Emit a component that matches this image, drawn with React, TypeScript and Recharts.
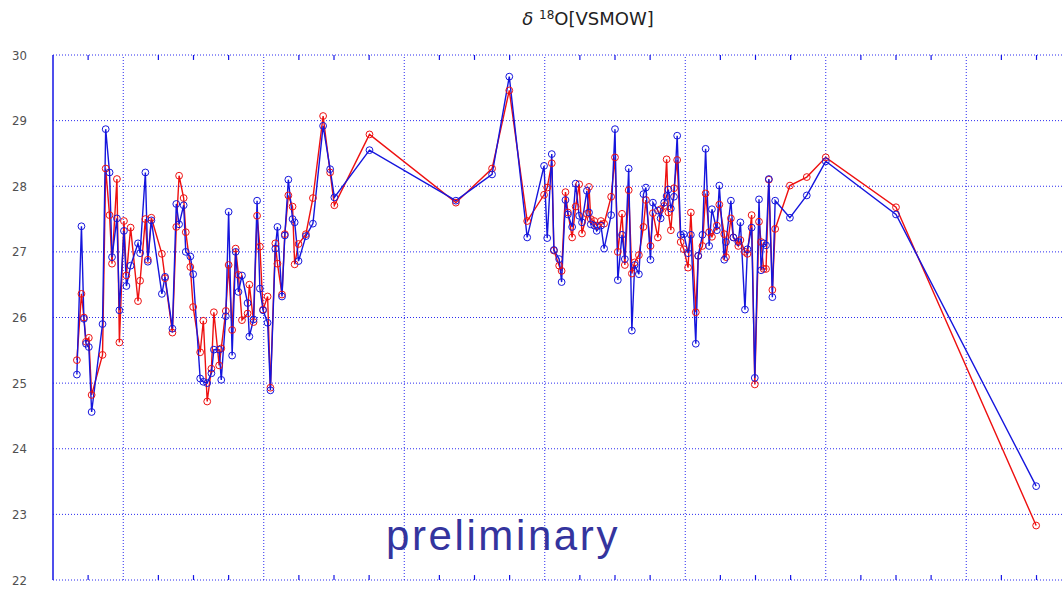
import React from "react";
import { LineChart, Line, XAxis, YAxis, CartesianGrid, ReferenceLine } from "recharts";

// sample position along the time axis (1 unit = one minor tick)
const sampleT = [
  0.68, 0.81, 0.88, 0.94, 1.02, 1.1, 1.41, 1.5, 1.61, 1.68,
  1.82, 1.89, 2.02, 2.09, 2.21, 2.42, 2.48, 2.63, 2.7, 2.8,
  3.1, 3.19, 3.4, 3.51, 3.59, 3.72, 3.78, 3.91, 3.99, 4.19,
  4.28, 4.39, 4.51, 4.58, 4.73, 4.79, 4.92, 5.0, 5.1, 5.2,
  5.28, 5.38, 5.54, 5.59, 5.71, 5.81, 5.89, 5.98, 6.11, 6.19,
  6.33, 6.39, 6.52, 6.6, 6.7, 6.82, 6.88, 6.99, 7.2, 7.4,
  7.69, 7.89, 8.01, 9.01, 11.47, 12.5, 12.99, 13.5, 13.98, 14.07,
  14.2, 14.26, 14.41, 14.48, 14.59, 14.66, 14.78, 14.88, 14.98, 15.06,
  15.2, 15.26, 15.31, 15.41, 15.48, 15.6, 15.69, 15.89, 16.0, 16.08,
  16.2, 16.28, 16.39, 16.48, 16.56, 16.68, 16.81, 16.88, 17.01, 17.08,
  17.22, 17.3, 17.4, 17.47, 17.52, 17.59, 17.68, 17.77, 17.87, 17.96,
  18.08, 18.16, 18.3, 18.37, 18.49, 18.58, 18.68, 18.76, 18.9, 18.97,
  19.11, 19.16, 19.3, 19.37, 19.51, 19.57, 19.7, 19.77, 19.89, 19.98,
  20.1, 20.16, 20.23, 20.3, 20.38, 20.48, 20.56, 20.98, 21.46, 22.0,
  24.0, 27.99,
];

const blueValues = [
  25.13, 27.39, 25.98, 25.6, 25.55, 24.56, 25.9, 28.87, 28.21, 26.92,
  27.51, 26.11, 27.32, 26.48, 26.79, 27.13, 26.98, 28.21, 26.85, 27.48,
  26.36, 26.62, 25.83, 27.73, 27.42, 27.71, 27.0, 26.93, 26.66, 25.07,
  25.02, 25.0, 25.15, 25.51, 25.51, 25.05, 26.02, 27.61, 25.42, 27.0,
  26.39, 26.64, 26.22, 25.71, 25.97, 27.78, 26.44, 26.11, 25.92, 24.89,
  27.05, 27.38, 26.32, 27.25, 28.1, 27.5, 27.45, 26.86, 27.24, 27.43,
  28.92, 28.26, 27.83, 28.55, 27.78, 28.18, 29.67, 27.22, 28.31, 27.21,
  28.49, 27.03, 26.89, 26.54, 27.79, 27.57, 27.38, 28.04, 27.55, 27.45,
  27.93, 27.6, 27.42, 27.4, 27.32, 27.4, 27.05, 27.56, 28.87, 26.57,
  27.26, 26.89, 28.27, 25.8, 26.8, 26.66, 27.88, 27.98, 26.88, 27.75,
  27.63, 27.51, 27.75, 27.85, 27.95, 27.66, 27.84, 28.77, 27.26, 27.27,
  26.98, 27.26, 25.6, 26.94, 27.26, 28.57, 27.09, 27.65, 27.33, 28.01,
  26.88, 27.15, 27.78, 27.22, 27.15, 27.45, 26.12, 27.04, 27.37, 25.08,
  27.8, 26.72, 27.13, 27.1, 28.11, 26.31, 27.78, 27.52, 27.86, 28.38,
  27.57, 23.43,
];

const redValues = [
  25.35, 26.36, 26.0, 25.63, 25.69, 24.82, 25.43, 28.27, 27.56, 26.82,
  28.11, 25.62, 27.47, 26.64, 27.37, 26.25, 26.56, 27.5, 26.88, 27.52,
  26.97, 26.6, 25.77, 27.38, 28.16, 27.82, 27.3, 26.77, 26.16, 25.47,
  25.95, 24.72, 25.22, 26.08, 25.27, 25.53, 26.1, 26.8, 25.81, 27.05,
  26.65, 25.96, 26.06, 26.5, 25.93, 27.55, 27.08, 26.12, 26.32, 24.93,
  27.13, 26.82, 26.35, 27.27, 27.86, 27.69, 26.81, 27.12, 27.27, 27.82,
  29.07, 28.21, 27.71, 28.79, 27.75, 28.27, 29.46, 27.47, 27.87, 27.98,
  28.35, 27.02, 26.79, 26.71, 27.91, 27.6, 27.22, 27.69, 28.03, 27.28,
  27.58, 27.99, 27.5, 27.47, 27.4, 27.47, 27.43, 27.84, 28.44, 27.0,
  27.58, 26.8, 27.94, 26.67, 26.84, 26.95, 27.38, 27.79, 27.09, 27.59,
  27.22, 27.65, 27.7, 28.41, 27.6, 27.33, 27.97, 28.4, 27.15, 27.04,
  26.76, 27.6, 26.08, 26.94, 27.09, 27.89, 27.3, 27.23, 27.4, 27.72,
  27.27, 26.92, 27.51, 27.22, 27.09, 27.18, 27.0, 26.97, 27.56, 24.98,
  27.46, 27.15, 26.74, 26.74, 28.1, 26.42, 27.35, 28.01, 28.14, 28.44,
  27.68, 22.83,
];

const yTicks = [22, 23, 24, 25, 26, 27, 28, 29, 30];
// small inward ticks, skipped where a dotted grid line sits
const minorTicks = [1, 3, 4, 5, 7, 8, 9, 11, 12, 13, 15, 16, 17, 19, 20, 21, 23, 24, 25, 27, 28, 29, 31];
const majorTicks = [2, 6, 10, 14, 18, 22, 26, 30];

const Y_MIN = 22;
const Y_MAX = 30;
const TICK_LEN = 0.075; // in y units, about 5px

const AXIS = "#1414e6";
const GRID = "#2b2bf0";

export default function App() {
  const data = sampleT.map((t, i) => ({ t, blue: blueValues[i], red: redValues[i] }));

  return (
    <div
      style={{
        position: "fixed",
        left: 0,
        top: 0,
        width: 1062,
        height: 589,
        overflow: "hidden",
        background: "#fff",
        fontFamily: "'DejaVu Sans', sans-serif",
      }}
    >
      <LineChart width={1200} height={600} data={data} margin={{ top: 55, right: 23, bottom: 20, left: 0 }}>
        <CartesianGrid vertical={false} stroke={GRID} strokeDasharray="1 2" />
        {majorTicks.map((m) => (
          <ReferenceLine key={m} x={m} stroke={GRID} strokeDasharray="1 2" />
        ))}
        {minorTicks.map((m) => (
          <ReferenceLine
            key={`b${m}`}
            segment={[{ x: m, y: Y_MIN }, { x: m, y: Y_MIN + TICK_LEN }]}
            stroke={AXIS}
            strokeWidth={1.2}
          />
        ))}
        {minorTicks.map((m) => (
          <ReferenceLine
            key={`t${m}`}
            segment={[{ x: m, y: Y_MAX }, { x: m, y: Y_MAX - TICK_LEN }]}
            stroke={AXIS}
            strokeWidth={1.2}
          />
        ))}
        <XAxis
          dataKey="t"
          type="number"
          domain={[0, 32]}
          tick={false}
          tickLine={false}
          height={0}
          stroke={AXIS}
          strokeWidth={1.5}
          allowDataOverflow
        />
        <XAxis
          xAxisId="top"
          orientation="top"
          type="number"
          domain={[0, 32]}
          tick={false}
          tickLine={false}
          height={0}
          stroke={AXIS}
          strokeWidth={1.5}
          allowDataOverflow
        />
        <YAxis
          type="number"
          domain={[Y_MIN, Y_MAX]}
          ticks={yTicks}
          width={53}
          tickLine={false}
          tickSize={0}
          tickMargin={26}
          axisLine={{ stroke: AXIS, strokeWidth: 1.5 }}
          tick={{ fill: "#505050", fontSize: 13, fontFamily: "'DejaVu Sans Condensed', 'DejaVu Sans', sans-serif" }}
          allowDataOverflow
        />
        <Line
          dataKey="red"
          stroke="#ee1010"
          strokeWidth={1.4}
          dot={{ r: 3.4, fill: "none", stroke: "#ee1010", strokeWidth: 1 }}
          isAnimationActive={false}
        />
        <Line
          dataKey="blue"
          stroke="#1515dd"
          strokeWidth={1.4}
          dot={{ r: 3.4, fill: "none", stroke: "#1515dd", strokeWidth: 1 }}
          isAnimationActive={false}
        />
      </LineChart>

      <div
        style={{
          position: "absolute",
          left: 438,
          width: 300,
          top: 6,
          textAlign: "center",
          fontSize: 18,
          lineHeight: "26px",
          color: "#222",
        }}
      >
        <span style={{ fontStyle: "italic" }}>δ</span>{" "}
        <sup style={{ fontSize: 12, verticalAlign: "6px", lineHeight: 0 }}>18</sup>O[VSMOW]
      </div>

      <div
        style={{
          position: "absolute",
          left: 303,
          width: 400,
          top: 510,
          textAlign: "center",
          fontSize: 42,
          lineHeight: "52px",
          letterSpacing: 2.6,
          color: "#34349e",
          fontFamily: "'Liberation Sans', Arial, sans-serif",
        }}
      >
        preliminary
      </div>
    </div>
  );
}
